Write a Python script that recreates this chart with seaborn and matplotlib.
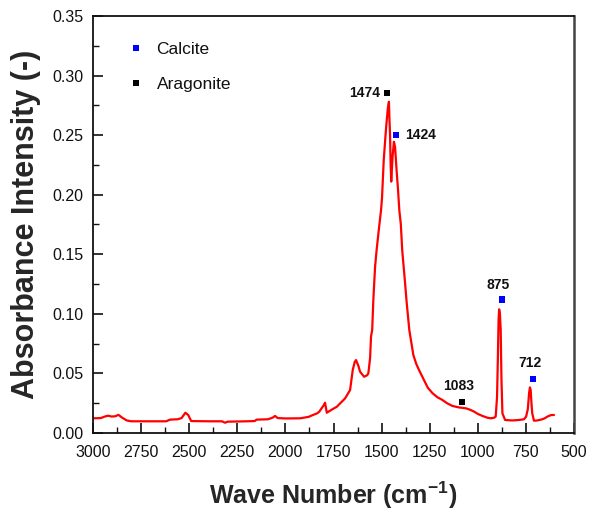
import numpy as np
import pandas as pd
import matplotlib
matplotlib.use("Agg")
import matplotlib.pyplot as plt
from matplotlib.ticker import MultipleLocator, FormatStrFormatter
import seaborn as sns

# FTIR absorbance spectrum (wave number in cm-1, absorbance)
wavenumber = [
    3000, 2960, 2935, 2920, 2905, 2885, 2868, 2850, 2825, 2800, 2700, 2620,
    2600, 2560, 2540, 2520, 2505, 2490, 2400, 2330, 2314, 2300, 2200, 2160,
    2150, 2090, 2065, 2054, 2040, 2000, 1924, 1880, 1857, 1835, 1824, 1800,
    1794, 1785, 1760, 1733, 1690, 1664, 1650, 1640, 1633, 1620, 1612, 1591,
    1575, 1569, 1560, 1555, 1549, 1543, 1534, 1526, 1515, 1503, 1498, 1489,
    1477, 1468, 1462, 1459, 1456, 1453, 1450, 1443, 1436, 1430, 1422, 1415,
    1408, 1400, 1393, 1378, 1370, 1356, 1335, 1320, 1306, 1280, 1260, 1235,
    1210, 1184, 1160, 1132, 1100, 1062, 1040, 1019, 1000, 976, 950, 933,
    915, 907, 900, 896, 892, 889, 885, 881, 877, 872, 858, 820, 786, 760,
    749, 740, 733, 729, 725, 721, 717, 708, 690, 665, 650, 639, 620, 604,
]
absorbance = [
    0.0123, 0.0125, 0.0140, 0.0145, 0.0138, 0.0140, 0.0152, 0.0130, 0.0105, 0.0098, 0.0098, 0.0098,
    0.0112, 0.0115, 0.0125, 0.0170, 0.0150, 0.0100, 0.0098, 0.0098, 0.0086, 0.0095, 0.0098, 0.0100,
    0.0112, 0.0115, 0.0130, 0.0143, 0.0125, 0.0122, 0.0123, 0.0135, 0.0151, 0.0165, 0.0179, 0.0235,
    0.0254, 0.0170, 0.0195, 0.0220, 0.0290, 0.0360, 0.0529, 0.0595, 0.0612, 0.0560, 0.0514, 0.0472,
    0.0485, 0.0500, 0.0627, 0.0810, 0.0864, 0.1116, 0.1395, 0.1535, 0.1700, 0.1870, 0.1970, 0.2290,
    0.2557, 0.2720, 0.2780, 0.2620, 0.2500, 0.2250, 0.2110, 0.2320, 0.2444, 0.2400, 0.2200, 0.2050,
    0.1870, 0.1750, 0.1535, 0.1258, 0.1100, 0.0864, 0.0654, 0.0580, 0.0530, 0.0445, 0.0380, 0.0333,
    0.0300, 0.0277, 0.0250, 0.0227, 0.0215, 0.0207, 0.0195, 0.0179, 0.0160, 0.0143, 0.0128, 0.0123,
    0.0128, 0.0137, 0.0300, 0.0600, 0.0950, 0.1038, 0.1000, 0.0864, 0.0450, 0.0165, 0.0109, 0.0105, 0.0109, 0.0115,
    0.0137, 0.0200, 0.0340, 0.0383, 0.0360, 0.0250, 0.0165, 0.0103, 0.0105, 0.0115, 0.0125, 0.0137, 0.0150, 0.0151,
]

# Assigned bands
calcite_bands = [1424, 875, 712]
calcite_marks = [0.250, 0.112, 0.045]
aragonite_bands = [1474, 1083]
aragonite_marks = [0.2855, 0.0263]

x_ticks = [3000, 2750, 2500, 2250, 2000, 1750, 1500, 1250, 1000, 750, 500]

sns.set_style("white")
plt.rcParams["font.family"] = ["Liberation Sans", "DejaVu Sans"]
plt.rcParams["mathtext.fontset"] = "custom"
plt.rcParams["mathtext.rm"] = "Liberation Sans"
plt.rcParams["mathtext.bf"] = "Liberation Sans:bold"

spectrum = pd.DataFrame({"wn": wavenumber, "abs": absorbance})
bands = pd.DataFrame({
    "wn": calcite_bands + aragonite_bands,
    "abs": calcite_marks + aragonite_marks,
    "Mineral": ["Calcite"] * len(calcite_bands) + ["Aragonite"] * len(aragonite_bands),
})

fig = plt.figure(figsize=(5.89, 5.13), dpi=100)
ax = fig.add_axes([0.158, 0.156, 0.8165, 0.8128])

sns.lineplot(data=spectrum, x="wn", y="abs", ax=ax, color="#ff0000",
             linewidth=1.6, sort=False, estimator=None)
sns.scatterplot(data=bands, x="wn", y="abs", hue="Mineral", ax=ax,
                palette={"Calcite": "#0000ff", "Aragonite": "#000000"},
                marker="s", s=20, linewidth=0, zorder=5)

# Band labels
label_offsets = {
    1474: (-5, 0, "right"),
    1424: (6.5, 0, "left"),
    875: (-3, 10.5, "center"),
    712: (-2, 12, "center"),
    1083: (-2, 11, "center"),
}
for wn, a in zip(bands["wn"], bands["abs"]):
    dx, dy, ha = label_offsets[wn]
    ax.annotate(str(wn), xy=(wn, a), xytext=(dx, dy), textcoords="offset points",
                ha=ha, va="center", fontsize=10, fontweight="bold", color="#111111")

ax.set_xlim(3000, 500)
ax.set_ylim(0, 0.35)
ax.set_xticks(x_ticks)
ax.xaxis.set_minor_locator(MultipleLocator(125))
ax.yaxis.set_major_locator(MultipleLocator(0.05))
ax.yaxis.set_minor_locator(MultipleLocator(0.025))
ax.yaxis.set_major_formatter(FormatStrFormatter("%.2f"))
ax.tick_params(which="major", direction="in", length=7, width=1.2, labelsize=11.5,
               bottom=True, left=True, top=False, right=False, pad=7, colors="#111111")
ax.tick_params(axis="x", which="major", pad=8.5)
ax.tick_params(which="minor", direction="in", length=4, width=1.0,
               bottom=True, left=True, top=False, right=False, colors="#111111")
for side in ["left", "bottom", "top"]:
    ax.spines[side].set_color("#111111")
    ax.spines[side].set_linewidth(1.3)
ax.spines["right"].set_color("#444444")
ax.spines["right"].set_linewidth(1.8)

ax.set_xlabel(r"Wave Number (cm$^{\mathbf{-1}}$)", fontsize=18, fontweight="bold", labelpad=14)
ax.set_ylabel("Absorbance Intensity (-)", fontsize=22, fontweight="bold", labelpad=8)

leg = ax.legend(loc="upper left", bbox_to_anchor=(0.02, 0.975), frameon=False,
                fontsize=12.5, labelspacing=1.12, handletextpad=0.2, markerscale=1.0)
for t in leg.get_texts():
    t.set_color("#111111")

fig.savefig("out.png", dpi=100)
